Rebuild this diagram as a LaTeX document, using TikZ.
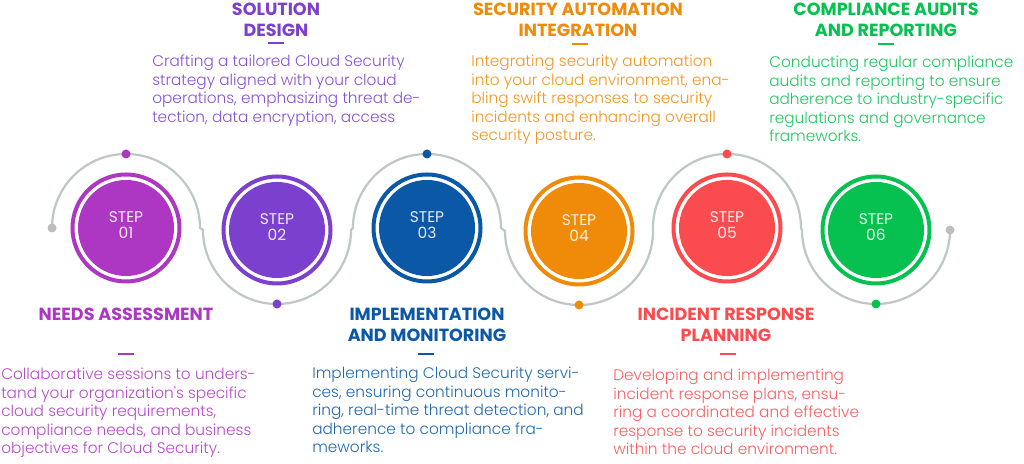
\documentclass[tikz,border=0pt]{standalone}
\usepackage{fontspec}
\setmainfont{Poppins}
\newfontfamily\thinfont{Poppins Light}
\usepackage{tikz}
\usetikzlibrary{calc}
\definecolor{stepA}{HTML}{AD37C2}
\definecolor{stepB}{HTML}{7B40CE}
\definecolor{stepC}{HTML}{0B58A6}
\definecolor{stepD}{HTML}{EF8B08}
\definecolor{stepE}{HTML}{FA4C4E}
\definecolor{stepF}{HTML}{06C14F}
\definecolor{trackgray}{HTML}{BFC8C6}
\definecolor{endgray}{HTML}{BDBDBD}
\tikzset{
  disk/.style={circle,fill=#1,minimum size=2.4cm,inner sep=0pt,align=center,text depth=4pt,
               text=white,text opacity=0.88,font=\fontsize{11}{11.8}\selectfont},
  ring/.style={draw=#1,line width=2.85pt},
  head/.style={text=#1,font=\fontsize{12.5}{15}\selectfont\bfseries,align=center,inner sep=0pt},
  body/.style={text=#1!90!white,font=\thinfont\fontsize{10.9}{13.15}\selectfont,align=left,
               inner sep=0pt,anchor=north west},
  dash/.style={draw=#1,line width=1.4pt},
  track/.style={draw=trackgray,line width=1.6pt}
}
\begin{document}
\begin{tikzpicture}[x=0.025cm,y=0.025cm]
  \useasboundingbox (0,0) rectangle (1024,464);
  % step discs
  \foreach \n/\x/\y/\c in {1/126/236/stepA,2/277/234/stepB,3/427/236/stepC,
                           4/579/233/stepD,5/727/236/stepE,6/876/234/stepF}{
    \node[disk=\c] (s\n) at (\x,\y) {STEP\\0\n};
    \draw[ring=\c] (s\n.center) circle[radius=53.5];
  }
  % winding track
  \coordinate (tL) at ($(s1)+(-74,0)$);
  \coordinate (tR) at ($(s6)+(74,0)$);
  \draw[track] (tL) arc[start angle=180,end angle=0,radius=74]
    -- ($(s2)+(-74,0)$) arc[start angle=180,end angle=360,radius=74]
    -- ($(s3)+(-74,0)$) arc[start angle=180,end angle=0,radius=74]
    -- ($(s4)+(-74,0)$) arc[start angle=180,end angle=360,radius=74]
    -- ($(s5)+(-74,0)$) arc[start angle=180,end angle=0,radius=74]
    -- ($(s6)+(-74,0)$) arc[start angle=180,end angle=360,radius=74];
  \fill[endgray] (tL) circle[radius=4.5];
  \fill[endgray] (tR) circle[radius=4.5];
  \foreach \n/\c in {1/stepA,3/stepC,5/stepE}{\fill[\c] ($(s\n)+(0,74)$) circle[radius=4.5];}
  \foreach \n/\c in {2/stepB,4/stepD,6/stepF}{\fill[\c] ($(s\n)+(0,-74)$) circle[radius=4.5];}
  % headings
  \node[head=stepA] (h1) at (126,150) {NEEDS ASSESSMENT};
  \node[head=stepB] (h2) at (276,444.5) {SOLUTION\\DESIGN};
  \node[head=stepC] (h3) at (427,139.5) {IMPLEMENTATION\\AND MONITORING};
  \node[head=stepD] (h4) at (578,444) {SECURITY AUTOMATION\\INTEGRATION};
  \node[head=stepE] (h5) at (726,139.5) {INCIDENT RESPONSE\\PLANNING};
  \node[head=stepF] (h6) at (886,444.5) {COMPLIANCE AUDITS\\AND REPORTING};
  % dashes
  \draw[dash=stepA] (118,110) -- (134,110);
  \draw[dash=stepB] (268,421) -- (284,421);
  \draw[dash=stepC] (418,110) -- (434,110);
  \draw[dash=stepD] (572,420) -- (588,420);
  \draw[dash=stepE] (720,110) -- (736,110);
  \draw[dash=stepF] (878,420) -- (894,420);
  % descriptions
  \node[body=stepA] (b1) at (1,96) {Collaborative sessions to unders-\\tand your organization's specific\\cloud security requirements,\\compliance needs, and business\\objectives for Cloud Security.};
  \node[body=stepB] (b2) at (152,409) {Crafting a tailored Cloud Security\\strategy aligned with your cloud\\operations, emphasizing threat de-\\tection, data encryption, access};
  \node[body=stepC] (b3) at (312,97) {Implementing Cloud Security servi-\\ces, ensuring continuous monito-\\ring, real-time threat detection, and\\adherence to compliance fra-\\meworks.};
  \node[body=stepD] (b4) at (471,409) {Integrating security automation\\into your cloud environment, ena-\\bling swift responses to security\\incidents and enhancing overall\\security posture.};
  \node[body=stepE] (b5) at (613,95) {Developing and implementing\\incident response plans, ensu-\\ring a coordinated and effective\\response to security incidents\\within the cloud environment.};
  \node[body=stepF] (b6) at (769,408) {Conducting regular compliance\\audits and reporting to ensure\\adherence to industry-specific\\regulations and governance\\frameworks.};
\end{tikzpicture}
\end{document}
